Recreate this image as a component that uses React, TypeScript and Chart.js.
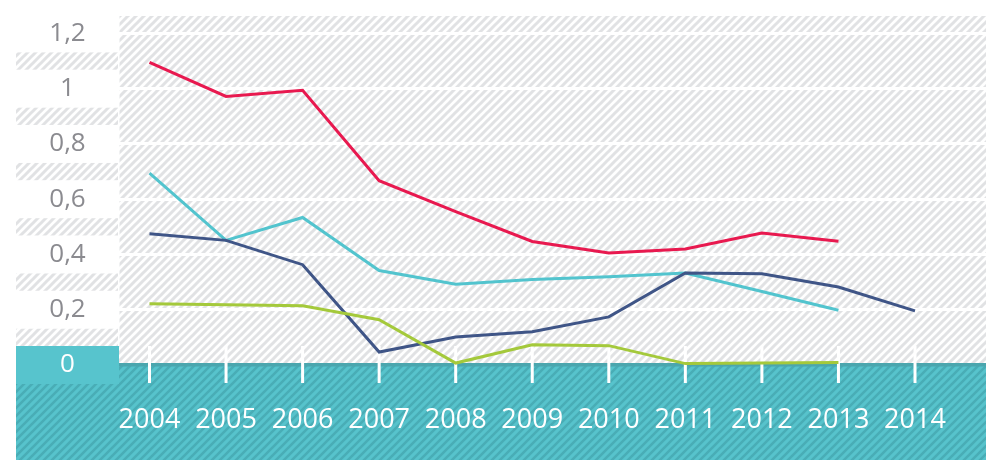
import React, { useEffect, useRef } from 'react';
import { Chart, registerables } from 'chart.js';

Chart.register(...registerables);

const years = [2004, 2005, 2006, 2007, 2008, 2009, 2010, 2011, 2012, 2013, 2014];
const seriesRed = [1.095, 0.972, 0.994, 0.667, 0.555, 0.447, 0.405, 0.42, 0.478, 0.448, null];
const seriesCyan = [0.694, 0.451, 0.534, 0.342, 0.292, 0.309, 0.319, 0.333, 0.266, 0.198, null];
const seriesNavy = [0.475, 0.451, 0.363, 0.047, 0.101, 0.12, 0.174, 0.333, 0.33, 0.282, 0.196];
const seriesGreen = [0.222, 0.218, 0.214, 0.164, 0.007, 0.073, 0.07, 0.005, 0.007, 0.009, null];
const yTicks = [0, 0.2, 0.4, 0.6, 0.8, 1, 1.2];

const FONT = '"Open Sans", sans-serif';
const Y_FONT_SIZE = 26;
const X_FONT_SIZE = 27;

function fmt(v: number): string {
  const r = Math.round(v * 10) / 10;
  if (r === 0) return '0';
  if (r === 1) return '1';
  return r.toFixed(1).replace('.', ',');
}

function makeHatch(bg: string, fg: string, size: number, width: number): CanvasPattern | string {
  const c = document.createElement('canvas');
  c.width = size;
  c.height = size;
  const g = c.getContext('2d');
  if (!g) return bg;
  g.fillStyle = bg;
  g.fillRect(0, 0, size, size);
  g.strokeStyle = fg;
  g.lineWidth = width;
  g.beginPath();
  g.moveTo(-1, size + 1);
  g.lineTo(size + 1, -1);
  g.moveTo(-size / 2 - 1, size / 2 + 1);
  g.lineTo(size / 2 + 1, -size / 2 - 1);
  g.moveTo(size / 2 - 1, size * 1.5 + 1);
  g.lineTo(size * 1.5 + 1, size / 2 - 1);
  g.stroke();
  const p = g.createPattern(c, 'repeat');
  return p || bg;
}

function toPoints(vals: (number | null)[]) {
  return years
    .map((yr, i) => ({ x: yr, y: vals[i] }))
    .filter((p) => p.y !== null) as { x: number; y: number }[];
}

export default function App() {
  const ref = useRef<HTMLCanvasElement | null>(null);

  useEffect(() => {
    const canvas = ref.current;
    if (!canvas) return;

    const measure = document.createElement('canvas').getContext('2d');
    let widest = 36;
    if (measure) {
      measure.font = `${Y_FONT_SIZE}px ${FONT}`;
      widest = Math.max(...yTicks.map((v) => measure.measureText(fmt(v)).width));
    }
    const yPad = 51.5 - widest / 2;

    const hatchLight = makeHatch('#ffffff', '#e1e2e4', 8, 3);
    const hatchTeal = makeHatch('#57c3cc', '#49adb6', 8, 2.6);

    const decor = {
      id: 'decor',
      beforeDraw(chart: any) {
        const { ctx, chartArea: a, scales } = chart;
        const y = scales.y;
        const L = 16;
        ctx.save();
        ctx.fillStyle = hatchLight;
        ctx.fillRect(L, a.top, a.right - L, a.bottom - a.top);
        ctx.fillStyle = '#ffffff';
        yTicks.forEach((v) => {
          if (v === 0) return;
          const py = y.getPixelForValue(v);
          const t = Math.max(a.top, py - 19);
          ctx.fillRect(L, t, a.left - L, py + 19 - t);
        });
        const p0 = y.getPixelForValue(0);
        ctx.fillRect(a.left - 1, a.top, 1.5, p0 - 19 - a.top);
        ctx.fillStyle = hatchTeal;
        ctx.fillRect(L, a.bottom, a.right - L, chart.height - a.bottom);
        ctx.fillStyle = '#4ba6ae';
        ctx.fillRect(a.left, p0 - 2, a.right - a.left, 3.5);
        ctx.fillStyle = '#57c4cd';
        ctx.fillRect(L, p0 - 19, a.left - L, 38);
        ctx.restore();
      },
      beforeDatasetsDraw(chart: any) {
        const { ctx, scales } = chart;
        const p0 = scales.y.getPixelForValue(0);
        ctx.save();
        ctx.fillStyle = '#ffffff';
        years.forEach((yr) => {
          const px = scales.x.getPixelForValue(yr);
          ctx.fillRect(px - 1.5, p0 - 19, 3, 37);
        });
        ctx.restore();
      },
    };

    const line = (vals: (number | null)[], color: string) => ({
      data: toPoints(vals),
      borderColor: color,
      backgroundColor: color,
      borderWidth: 3,
      pointRadius: 0,
      pointHoverRadius: 0,
      fill: false,
      tension: 0,
      clip: false as any,
    });

    const chart = new Chart(canvas, {
      type: 'line',
      data: {
        datasets: [
          line(seriesGreen, '#a4c93b'),
          line(seriesNavy, '#3f5587'),
          line(seriesCyan, '#52c4ce'),
          line(seriesRed, '#e8194f'),
        ],
      },
      options: {
        animation: false,
        responsive: false,
        devicePixelRatio: 1,
        layout: { padding: { left: 16, top: 16, right: 0, bottom: 0 } },
        plugins: { legend: { display: false }, tooltip: { enabled: false } },
        events: [],
        scales: {
          x: {
            type: 'linear',
            min: 2003.6016,
            max: 2014.9275,
            afterFit(s: any) {
              s.height = 95;
              s.paddingLeft = 0;
              s.paddingRight = 0;
            },
            afterBuildTicks(s: any) {
              s.ticks = years.map((v) => ({ value: v }));
            },
            grid: { display: false, drawTicks: false },
            border: { display: false },
            ticks: {
              padding: 39,
              color: '#ffffff',
              font: { family: FONT, size: X_FONT_SIZE },
              maxRotation: 0,
              autoSkip: false,
              callback: (v: any) => String(v),
            },
          },
          y: {
            type: 'linear',
            position: 'left',
            min: 0,
            max: 1.263,
            afterFit(s: any) {
              s.width = 103;
              s.paddingTop = 0;
              s.paddingBottom = 0;
            },
            afterBuildTicks(s: any) {
              s.ticks = yTicks.map((v) => ({ value: v }));
            },
            grid: {
              color: (c: any) => (c.tick && c.tick.value === 0 ? 'rgba(0,0,0,0)' : '#ffffff'),
              lineWidth: 3,
              drawTicks: false,
            },
            border: { display: false },
            ticks: {
              crossAlign: 'center',
              padding: yPad,
              color: (c: any) => (c.tick && c.tick.value === 0 ? '#ffffff' : '#8b8b90'),
              font: { family: FONT, size: Y_FONT_SIZE },
              callback: (v: any) => fmt(Number(v)),
            },
          },
        },
      },
      plugins: [decor],
    } as any);

    return () => chart.destroy();
  }, []);

  return (
    <div style={{ position: 'absolute', left: 0, top: 0, width: 986, height: 460 }}>
      <canvas ref={ref} width={986} height={460} style={{ display: 'block', width: 986, height: 460 }} />
    </div>
  );
}
